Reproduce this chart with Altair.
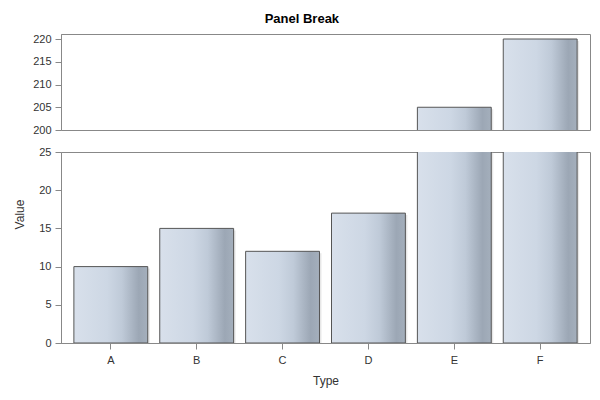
import altair as alt
import pandas as pd

types = ["A", "B", "C", "D", "E", "F"]
values = [10, 15, 12, 17, 205, 220]
top_ticks = [200, 205, 210, 215, 220]
bottom_ticks = [0, 5, 10, 15, 20, 25]

df = pd.DataFrame({"Type": types, "Value": values})

FONT = "Liberation Sans"
grad = alt.Gradient(
    gradient="linear", x1=0, x2=1, y1=0, y2=0,
    stops=[
        alt.GradientStop(offset=0, color="#d8e0eb"),
        alt.GradientStop(offset=0.45, color="#cdd7e4"),
        alt.GradientStop(offset=0.65, color="#bfcad8"),
        alt.GradientStop(offset=0.88, color="#9ca7b5"),
        alt.GradientStop(offset=1, color="#a4afbc"),
    ],
)

xscale = alt.Scale(paddingInner=0.14, paddingOuter=0.15)


def panel(domain, ticks, height, show_x):
    base = alt.Chart(df)
    x_enc = alt.X(
        "Type:N", scale=xscale, sort=types,
        axis=alt.Axis(title="Type", labelAngle=0, tickSize=6, labelPadding=5,
                      titlePadding=10) if show_x else None,
    )
    y_enc = alt.Y(
        "Value:Q", scale=alt.Scale(domain=domain, nice=False, zero=False),
        axis=alt.Axis(values=ticks, title="Value" if show_x else None,
                      tickSize=6, labelPadding=4, grid=False,
                      titleY=62 if show_x else alt.Undefined, titlePadding=12),
    )
    shadow = base.mark_bar(clip=True, fill="#b0b0b0", opacity=0.3,
                           xOffset=2, yOffset=2).encode(x=x_enc, y=y_enc)
    bars = base.mark_bar(clip=True, fill=grad, stroke="#555555",
                         strokeWidth=1).encode(x=x_enc, y=y_enc)
    return alt.layer(shadow, bars).properties(width=529, height=height)


top = panel([200, 221.1], top_ticks, 96, False)
bottom = panel([0, 25], bottom_ticks, 191, True)

chart = alt.vconcat(top, bottom, spacing=9).properties(
    title=alt.TitleParams("Panel Break", fontSize=13, font=FONT,
                          fontWeight="bold", anchor="middle", offset=7),
    padding={"left": 5, "top": 4, "right": 0, "bottom": 2},
).configure_view(stroke="#888888").configure_axis(
    labelFont=FONT, titleFont=FONT, labelFontSize=11, titleFontSize=12,
    labelColor="#333333", titleColor="#333333", titleFontWeight="normal",
    domainColor="#888888", tickColor="#888888",
)

chart.save("out.html", embed_options={"renderer": "svg", "actions": False})
